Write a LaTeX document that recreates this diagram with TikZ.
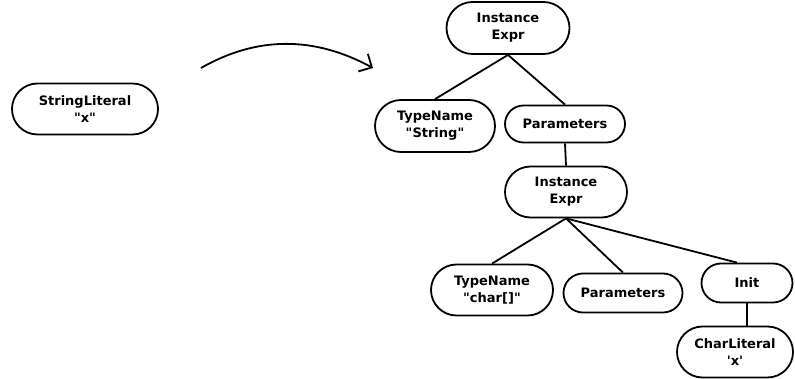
\documentclass[tikz,border=0pt]{standalone}
\usepackage{fontspec}
\setmainfont{DejaVu Sans}
\usetikzlibrary{shapes.misc,arrows.meta}

\begin{document}
\begin{tikzpicture}[x=1pt,y=-1pt,
        astnode/.style={rounded rectangle, draw, line width=1.8pt, align=center,
            font=\fontsize{13}{17}\selectfont\bfseries, inner sep=2pt},
        edge/.style={line width=1.8pt}]

        \useasboundingbox (0,0) rectangle (795,379);

        % linker Baum
        \node[astnode, minimum width=150pt, minimum height=51pt] (strlit) at (85,109) {StringLiteral\\\textquotedbl x\textquotedbl};

        % Pfeil
        \coordinate (from) at (201,68);
        \coordinate (to) at (373,68);
        \draw[line width=1.8pt, -{Straight Barb[length=10pt,width=20pt]}] (from) .. controls (257,36) and (314,36) .. (to);

        % rechter Baum
        \node[astnode, minimum width=127pt, minimum height=52pt] (inst1) at (508,28) {Instance\\Expr};
        \node[astnode, minimum width=124pt, minimum height=52pt] (tname1) at (435,126) {TypeName\\\textquotedbl String\textquotedbl};
        \node[astnode, minimum width=124pt, minimum height=37pt] (params1) at (565,124) {Parameters};
        \node[astnode, minimum width=126pt, minimum height=51pt] (inst2) at (566,192) {Instance\\Expr};
        \node[astnode, minimum width=126pt, minimum height=51pt] (tname2) at (492,290) {TypeName\\\textquotedbl char[]\textquotedbl};
        \node[astnode, minimum width=123pt, minimum height=39pt] (params2) at (623,293) {Parameters};
        \node[astnode, minimum width=95pt, minimum height=39pt] (init) at (747,283) {Init};
        \node[astnode, minimum width=120pt, minimum height=51pt] (charlit) at (735,352) {CharLiteral\\\textquotesingle x\textquotesingle};

        \draw[edge] (inst1.south) -- (tname1.north);
        \draw[edge] (inst1.south) -- (params1.north);
        \draw[edge] (params1.south) -- (inst2.north);
        \draw[edge] (inst2.south) -- (tname2.north);
        \draw[edge] (inst2.south) -- (params2.north);
        \draw[edge] (inst2.south) -- ([xshift=-10pt]init.north);
        \draw[edge] (init.south) -- (charlit.north -| init.south);

    \end{tikzpicture}
\end{document}
